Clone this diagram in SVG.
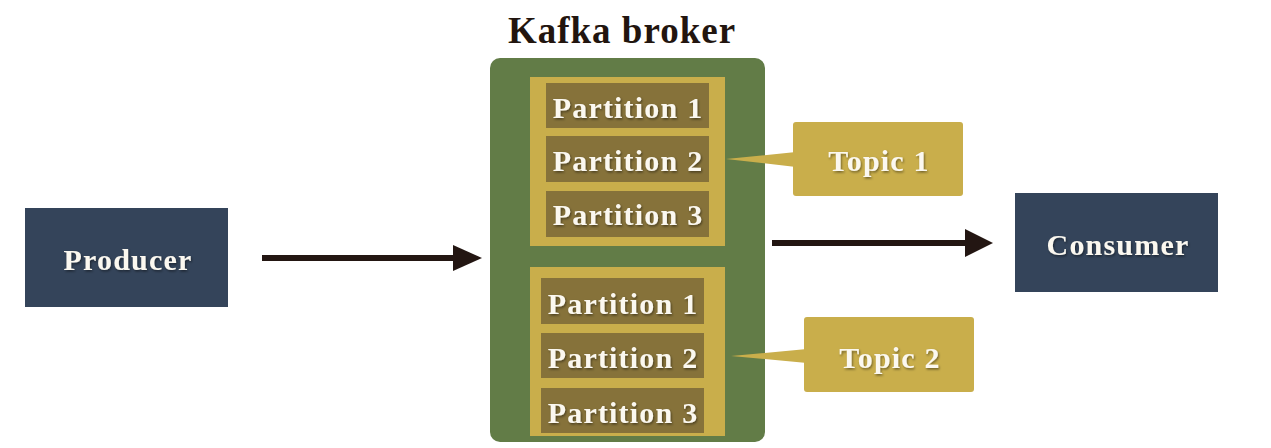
<svg xmlns="http://www.w3.org/2000/svg" width="1271" height="448" viewBox="0 0 1271 448">
<style>
.t{font-family:"Liberation Serif","DejaVu Serif",serif;font-weight:bold;text-anchor:middle}
.w{fill:#fbf8f0;font-size:30px;letter-spacing:1.2px;filter:url(#sh)}
.navy{fill:#34445a}
.gold{fill:#c9ae4b}
.part{fill:#86723a}
.conn{stroke:#231612;stroke-width:6;fill:none}
.head{fill:#231612}
</style>
<defs>
<filter id="sh" x="-10%" y="-20%" width="120%" height="150%">
<feDropShadow dx="1" dy="1.5" stdDeviation="0.8" flood-color="#000" flood-opacity="0.45"/>
</filter>
</defs>
<rect width="1271" height="448" fill="#ffffff"/>

<g id="producer">
<rect class="navy" x="25" y="208" width="203" height="99"/>
<text class="t w" x="128" y="270">Producer</text>
</g>

<g id="broker">
<text class="t" x="622" y="43" font-size="37" letter-spacing="1" fill="#22150f">Kafka broker</text>
<rect x="490" y="58" width="275" height="384" rx="10" fill="#627c47"/>
</g>

<g id="topic1-group">
<rect class="gold" x="530" y="77" width="195" height="169"/>
<rect class="part" x="546" y="83" width="163" height="45"/>
<text class="t w" x="628" y="118">Partition 1</text>
<rect class="part" x="546" y="136" width="163" height="46"/>
<text class="t w" x="628" y="171">Partition 2</text>
<rect class="part" x="546" y="191" width="163" height="46"/>
<text class="t w" x="628" y="225">Partition 3</text>
</g>

<g id="topic2-group">
<rect class="gold" x="530" y="267" width="195" height="169"/>
<rect class="part" x="541" y="278" width="163" height="46"/>
<text class="t w" x="623" y="314">Partition 1</text>
<rect class="part" x="541" y="333" width="163" height="45"/>
<text class="t w" x="623" y="368">Partition 2</text>
<rect class="part" x="541" y="388" width="163" height="45"/>
<text class="t w" x="623" y="423">Partition 3</text>
</g>

<g id="topic1">
<polygon class="gold" points="726,159 796,152 796,167"/>
<rect class="gold" x="793" y="122" width="170" height="74" rx="3"/>
<text class="t w" x="879" y="171">Topic 1</text>
</g>

<g id="topic2">
<polygon class="gold" points="731,356 807,349 807,363"/>
<rect class="gold" x="804" y="317" width="170" height="75" rx="3"/>
<text class="t w" x="890" y="368">Topic 2</text>
</g>

<g id="consumer">
<rect class="navy" x="1015" y="193" width="203" height="99"/>
<text class="t w" x="1118" y="255" letter-spacing="1.6">Consumer</text>
</g>

<g id="connectors">
<line class="conn" x1="262" y1="258" x2="456" y2="258"/>
<polygon class="head" points="453,245 482,258 453,271"/>
<line class="conn" x1="772" y1="243" x2="968" y2="243"/>
<polygon class="head" points="965,229 993,243 965,257"/>
</g>
</svg>
